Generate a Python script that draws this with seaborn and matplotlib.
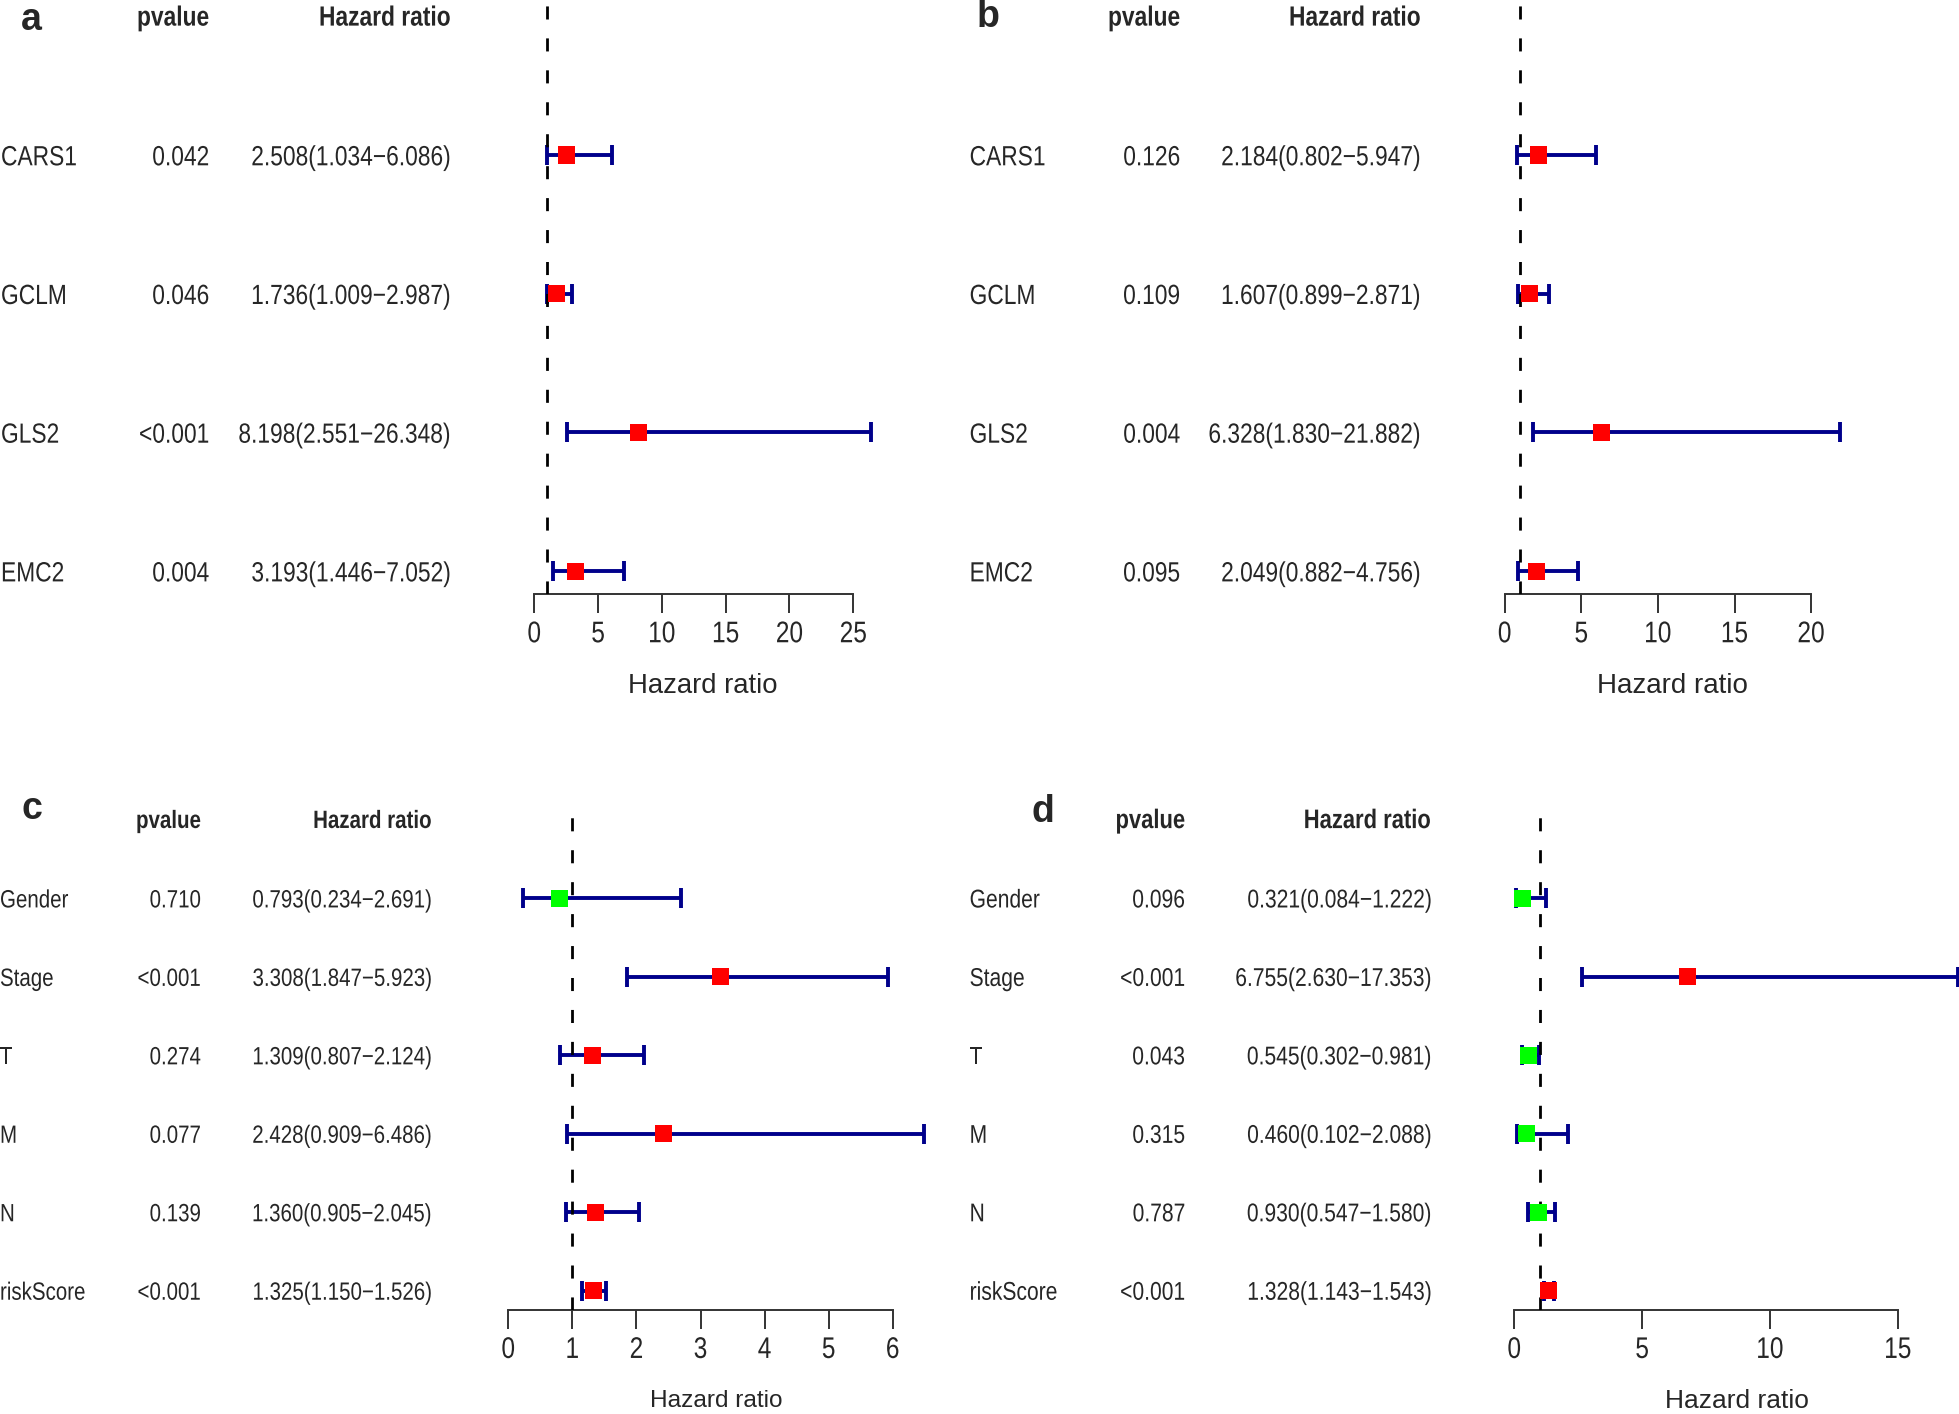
import matplotlib
matplotlib.use("Agg")
import matplotlib.pyplot as plt
import matplotlib.transforms as mtransforms
from matplotlib.patheffects import AbstractPathEffect
import seaborn as sns
import pandas as pd
import numpy as np

# ---- data -------------------------------------------------------------
genes = ["CARS1", "GCLM", "GLS2", "EMC2"]
clin = ["Gender", "Stage", "T", "M", "N", "riskScore"]

# a: univariate (genes)
a_pval = ["0.042", "0.046", "<0.001", "0.004"]
a_hr = [2.508, 1.736, 8.198, 3.193]
a_low = [1.034, 1.009, 2.551, 1.446]
a_high = [6.086, 2.987, 26.348, 7.052]
a_ticks = [0, 5, 10, 15, 20, 25]

# b: multivariate (genes)
b_pval = ["0.126", "0.109", "0.004", "0.095"]
b_hr = [2.184, 1.607, 6.328, 2.049]
b_low = [0.802, 0.899, 1.830, 0.882]
b_high = [5.947, 2.871, 21.882, 4.756]
b_ticks = [0, 5, 10, 15, 20]

# c: univariate (clinical + riskScore)
c_pval = ["0.710", "<0.001", "0.274", "0.077", "0.139", "<0.001"]
c_hr = [0.793, 3.308, 1.309, 2.428, 1.360, 1.325]
c_low = [0.234, 1.847, 0.807, 0.909, 0.905, 1.150]
c_high = [2.691, 5.923, 2.124, 6.486, 2.045, 1.526]
c_ticks = [0, 1, 2, 3, 4, 5, 6]

# d: multivariate (clinical + riskScore)
d_pval = ["0.096", "<0.001", "0.043", "0.315", "0.787", "<0.001"]
d_hr = [0.321, 6.755, 0.545, 0.460, 0.930, 1.328]
d_low = [0.084, 2.630, 0.302, 0.102, 0.547, 1.143]
d_high = [1.222, 17.353, 0.981, 2.088, 1.580, 1.543]
d_ticks = [0, 5, 10, 15]

# ---- style ------------------------------------------------------------
W, H = 1959, 1414
FONT = ["Liberation Sans", "DejaVu Sans"]
NARROW = 0.82  # width of Arial Narrow relative to Arial

sns.set_theme(style="white")
plt.rcParams["font.family"] = FONT


class Tall(AbstractPathEffect):
    """Stretch glyphs vertically about the cap centre, so a smaller font
    looks like a narrow face of the bigger one."""

    def __init__(self, sy=1 / NARROW, yc=36.0):
        super().__init__()
        self.sy = sy
        self.yc = yc

    def draw_path(self, renderer, gc, tpath, affine, rgbFace=None):
        stretch = mtransforms.Affine2D().translate(0, -self.yc).scale(1, self.sy).translate(0, self.yc)
        renderer.draw_path(gc, tpath, stretch + affine, rgbFace)


TALL = [Tall()]

fig = plt.figure(figsize=(W / 100, H / 100), dpi=100)
fig.patch.set_facecolor("white")


def forest(letter, names, pval, hr, low, high, ticks, xmax,
           x0, unit, row0, step, bottom, cols, letter_xy, xlab_xy, fs, hfs, xfs):
    """One forest panel; positions are given in pixels of the full figure."""
    n = len(names)
    top = row0 - 1.12 * step
    ax = fig.add_axes([x0 / W, 1 - bottom / H, xmax * unit / W, (bottom - top) / H])
    ax.set_facecolor("none")

    hr = np.array(hr)
    low = np.array(low)
    high = np.array(high)
    df = pd.DataFrame({"hr": hr, "row": np.arange(n),
                       "dir": np.where(hr > 1, "up", "down")})

    ax.errorbar(df["hr"], df["row"], xerr=[hr - low, high - hr], fmt="none",
                ecolor="#00008B", elinewidth=2.8, capsize=7.5, capthick=2.8,
                zorder=2, clip_on=False)
    ax.axvline(1, color="black", lw=2, linestyle=(0, (4.7, 6.8)), zorder=3)
    sns.scatterplot(data=df, x="hr", y="row", hue="dir",
                    palette={"up": "#FF0000", "down": "#00FF00"},
                    marker="s", s=150, linewidth=0, legend=False, ax=ax,
                    zorder=4, clip_on=False)

    ax.set_xlim(0, xmax)
    ax.set_ylim((bottom - row0) / step, -1.12)
    ax.set_xlabel("")
    ax.set_ylabel("")
    ax.set_yticks([])
    ax.set_xticks(ticks, labels=[str(t) for t in ticks], fontsize=21.5 * NARROW)
    for lbl in ax.get_xticklabels():
        lbl.set_path_effects(TALL)
    ax.tick_params(axis="x", direction="out", length=13.7, width=1.4,
                   color="#333333", pad=7.2, bottom=True)
    for side in ["left", "right", "top"]:
        ax.spines[side].set_visible(False)
    ax.spines["bottom"].set_bounds(ticks[0], ticks[-1])
    ax.spines["bottom"].set_color("#333333")
    ax.spines["bottom"].set_linewidth(1.4)

    # text columns: x in figure pixels, y in row units
    base = mtransforms.blended_transform_factory(fig.transFigure, ax.transData)
    trans = mtransforms.offset_copy(base, fig=fig, y=-2, units="dots")
    htrans = mtransforms.offset_copy(base, fig=fig, y=-1, units="dots")
    name_x, p_x, hr_x = cols
    for i in range(n):
        ax.text(name_x / W, i, names[i], transform=trans, ha="left", va="center",
                fontsize=fs * NARROW, path_effects=TALL)
        ax.text(p_x / W, i, pval[i], transform=trans, ha="right", va="center",
                fontsize=fs * NARROW, path_effects=TALL)
        ax.text(hr_x / W, i, f"{hr[i]:.3f}({low[i]:.3f}\u2212{high[i]:.3f})",
                transform=trans, ha="right", va="center",
                fontsize=fs * NARROW, path_effects=TALL)
    ax.text(p_x / W, -1, "pvalue", transform=htrans, ha="right", va="center",
            fontsize=hfs * NARROW, fontweight="bold", path_effects=TALL)
    ax.text(hr_x / W, -1, "Hazard ratio", transform=htrans, ha="right", va="center",
            fontsize=hfs * NARROW, fontweight="bold", path_effects=TALL)

    fig.text(letter_xy[0] / W, 1 - letter_xy[1] / H, letter, ha="center",
             va="center", fontsize=27, fontweight="bold")
    fig.text(xlab_xy[0] / W, 1 - xlab_xy[1] / H, "Hazard ratio", ha="center",
             va="center", fontsize=xfs)
    return ax


forest("a", genes, a_pval, a_hr, a_low, a_high, a_ticks, 27,
       534.3, 12.76, 155, 138.7, 594.3, (1, 209, 450), (31.5, 20), (703, 686),
       20, 20, 19.8)
forest("b", genes, b_pval, b_hr, b_low, b_high, b_ticks, 23,
       1504.7, 15.32, 155, 138.7, 594.3, (969.6, 1180, 1420), (988, 17), (1672, 686),
       20, 20, 20)
forest("c", clin, c_pval, c_hr, c_low, c_high, c_ticks, 6.7,
       508.3, 64.07, 898.3, 78.46, 1310, (0, 201, 432), (32, 809), (716, 1401),
       18, 18, 17.6)
forest("d", clin, d_pval, d_hr, d_low, d_high, d_ticks, 17.39,
       1514.3, 25.57, 898.3, 78.46, 1310, (969.6, 1185, 1431), (1043, 812), (1737, 1401),
       18.5, 19.3, 19)

fig.savefig("out.png", dpi=100, facecolor="white")
